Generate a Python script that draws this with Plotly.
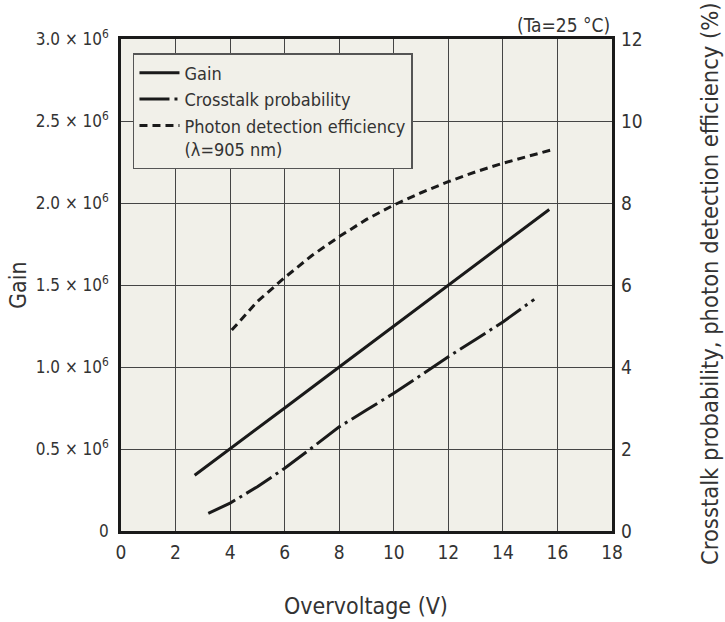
import plotly.graph_objects as go

# ---- data ----
gain_v = [2.7, 4, 6, 8, 10, 12, 14, 15.7]
gain = [0.34e6, 0.5e6, 0.75e6, 1.0e6, 1.25e6, 1.5e6, 1.75e6, 1.96e6]

xtalk_v = [3.2, 4, 5, 6, 7, 8, 9, 10, 11, 12, 13, 14, 15.15]
xtalk = [0.43, 0.68, 1.08, 1.53, 2.03, 2.54, 2.95, 3.36, 3.80, 4.25, 4.67, 5.10, 5.65]

pde_v = [4.06, 5, 6, 7, 8, 9, 10, 11, 12, 13, 14, 15, 15.75]
pde = [4.90, 5.60, 6.18, 6.72, 7.18, 7.60, 7.95, 8.25, 8.52, 8.76, 8.97, 9.15, 9.29]

x_ticks = [0, 2, 4, 6, 8, 10, 12, 14, 16, 18]
gain_ticks = [0, 0.5e6, 1.0e6, 1.5e6, 2.0e6, 2.5e6, 3.0e6]
gain_ticktext = ["0", "0.5 × 10<sup>6</sup>", "1.0 × 10<sup>6</sup>", "1.5 × 10<sup>6</sup>",
                 "2.0 × 10<sup>6</sup>", "2.5 × 10<sup>6</sup>", "3.0 × 10<sup>6</sup>"]
right_ticks = [0, 2, 4, 6, 8, 10, 12]

FONT = "DejaVu Sans Condensed, DejaVu Sans"
INK = "#1a1a1a"
TXT = "#333"

fig = go.Figure()
fig.add_trace(go.Scatter(x=gain_v, y=gain, mode="lines", name="Gain",
                         line=dict(color=INK, width=3)))
fig.add_trace(go.Scatter(x=xtalk_v, y=xtalk, mode="lines", name="Crosstalk probability",
                         yaxis="y2", line=dict(color=INK, width=3, dash="30px,5px,3px,5px")))
fig.add_trace(go.Scatter(x=pde_v, y=pde, mode="lines",
                         name="Photon detection efficiency<br>(λ=905 nm)",
                         yaxis="y2", line=dict(color=INK, width=3, dash="8px,5px")))

fig.update_layout(
    width=725, height=622,
    autosize=False,
    margin=dict(l=121, r=113, t=39, b=91, autoexpand=False),
    paper_bgcolor="white",
    plot_bgcolor="#f1f0e9",
    font=dict(family=FONT, size=19, color=TXT),
    showlegend=True,
    legend=dict(x=0.0244, y=0.9715, xanchor="left", yanchor="top",
                bgcolor="#f1f0e9", bordercolor="#555", borderwidth=1.5,
                font=dict(family=FONT, size=18, color=TXT),
                valign="top", tracegroupgap=0, itemwidth=40),
    xaxis=dict(range=[0, 18], tickvals=x_ticks, showgrid=True, gridcolor="#454545",
               gridwidth=1, zeroline=False, showline=True, linecolor=INK, linewidth=2.5,
               mirror=True, ticks="", ticklabelstandoff=2, automargin=False,
               tickfont=dict(family=FONT, size=19, color=TXT)),
    yaxis=dict(range=[0, 3.0e6], tickvals=gain_ticks, ticktext=gain_ticktext,
               showgrid=True, gridcolor="#454545", gridwidth=1, zeroline=False,
               showline=True, linecolor=INK, linewidth=2.5, mirror=True, ticks="",
               ticklabelstandoff=6, automargin=False,
               tickfont=dict(family=FONT, size=17, color=TXT)),
    yaxis2=dict(range=[0, 12], tickvals=right_ticks, overlaying="y", side="right",
                showgrid=False, zeroline=False, showline=False, ticks="",
                ticklabelstandoff=8, automargin=False,
                tickfont=dict(family=FONT, size=19, color=TXT)),
    annotations=[
        dict(text="Overvoltage (V)", xref="paper", yref="paper", x=(366 - 121) / 491,
             y=(531 - 606) / 492, xanchor="center", yanchor="middle", showarrow=False,
             font=dict(family=FONT, size=23, color=TXT)),
        dict(text="Gain", xref="paper", yref="paper", x=(18 - 121) / 491,
             y=(531 - 285) / 492, xanchor="center", yanchor="middle", showarrow=False,
             textangle=-90, font=dict(family=FONT, size=23, color=TXT)),
        dict(text="Crosstalk probability, photon detection efficiency (%)", xref="paper",
             yref="paper", x=(710 - 121) / 491, y=(531 - 284) / 492, xanchor="center",
             yanchor="middle", showarrow=False, textangle=-90,
             font=dict(family=FONT, size=23.5, color=TXT)),
        dict(text="(Ta=25 °C)", xref="paper", yref="paper", x=1.0,
             y=(531 - 25) / 492, xanchor="right", yanchor="middle", showarrow=False,
             font=dict(family=FONT, size=19, color=TXT)),
    ],
)

fig.write_html("out.html", config={"displayModeBar": False},
               post_script="document.body.style.margin='0px';")
